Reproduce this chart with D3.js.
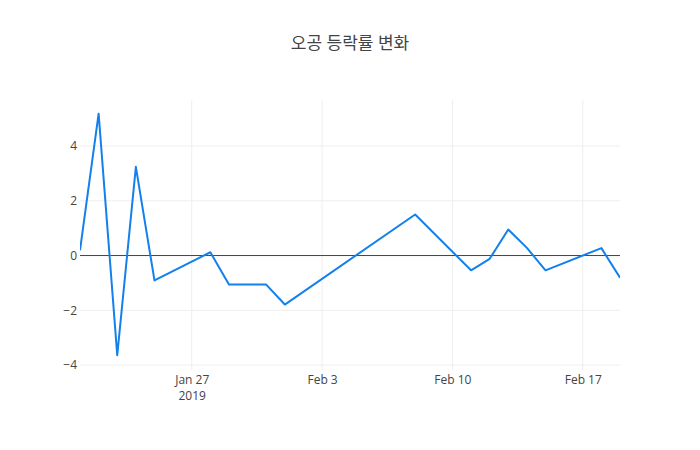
<!DOCTYPE html>
<html><head><meta charset="utf-8">
<script src="https://cdn.jsdelivr.net/npm/d3@7"></script>
<style>body{margin:0;background:#fff;}</style>
</head><body>
<svg id="chart" width="700" height="450"></svg>
<script>
const title = "오공 등락률 변화";
const dates = ["2019-01-21","2019-01-22","2019-01-23","2019-01-24","2019-01-25","2019-01-28","2019-01-29","2019-01-31","2019-02-01","2019-02-08","2019-02-11","2019-02-12","2019-02-13","2019-02-14","2019-02-15","2019-02-18","2019-02-19"];
const values = [0.19,5.18,-3.64,3.24,-0.91,0.12,-1.06,-1.06,-1.79,1.50,-0.54,-0.12,0.95,0.28,-0.54,0.27,-0.81];
const yTicks = [-4,-2,0,2,4];
const xTicks = ["2019-01-27","2019-02-03","2019-02-10","2019-02-17"];

const svg = d3.select("#chart");
const W=700,H=450,m={l:80,r:80,t:100,b:80};
const parse = d3.timeParse("%Y-%m-%d");
const data = dates.map((d,i)=>({date:parse(d),value:values[i]}));
const x = d3.scaleTime().domain([parse("2019-01-21"),parse("2019-02-19")]).range([m.l,W-m.r]);
const y = d3.scaleLinear().domain([-4.18,5.68]).range([H-m.b,m.t]);
const font = "'Open Sans', verdana, arial, sans-serif";

svg.append("rect").attr("width",W).attr("height",H).attr("fill","#fff");

// grid
const g = svg.append("g");
g.selectAll(".vg").data(xTicks.map(parse)).enter().append("line")
 .attr("x1",d=>x(d)).attr("x2",d=>x(d)).attr("y1",m.t).attr("y2",H-m.b)
 .attr("stroke","#eee").attr("stroke-width",1);
g.selectAll(".hg").data(yTicks.filter(v=>v!==0)).enter().append("line")
 .attr("x1",m.l).attr("x2",W-m.r).attr("y1",d=>y(d)).attr("y2",d=>y(d))
 .attr("stroke","#eee").attr("stroke-width",1);
// zero line
svg.append("line").attr("x1",m.l).attr("x2",W-m.r).attr("y1",y(0)).attr("y2",y(0))
 .attr("stroke","#444").attr("stroke-width",1);

// axes
const yAxis = d3.axisLeft(y).tickValues(yTicks).tickSize(0).tickPadding(3)
  .tickFormat(d=>d<0?"\u2212"+Math.abs(d):d);
const ya = svg.append("g").attr("transform",`translate(${m.l},0)`).call(yAxis);
ya.select(".domain").remove();
ya.selectAll("text").attr("font-family",font).attr("font-size",12).attr("fill","#444");

const fmt = d3.timeFormat("%b %-d");
const xa = svg.append("g").attr("transform",`translate(0,${H-m.b})`)
 .call(d3.axisBottom(x).tickValues(xTicks.map(parse)).tickSize(0).tickPadding(5).tickFormat(fmt));
xa.select(".domain").remove();
xa.selectAll("text").attr("font-family",font).attr("font-size",12).attr("fill","#444");
xa.selectAll(".tick").filter((d,i)=>i===0).append("text")
 .attr("y",21).attr("dy","0.71em").attr("text-anchor","middle")
 .attr("font-family",font).attr("font-size",12).attr("fill","#444").text("2019");

// line
svg.append("defs").append("clipPath").attr("id","clip").append("rect")
 .attr("x",m.l).attr("y",m.t).attr("width",W-m.l-m.r).attr("height",H-m.t-m.b);
svg.append("path").datum(data).attr("clip-path","url(#clip)")
 .attr("fill","none").attr("stroke","#1380ec").attr("stroke-width",2)
 .attr("stroke-linejoin","round")
 .attr("d",d3.line().x(d=>x(d.date)).y(d=>y(d.value)));

// title
svg.append("text").attr("x",W/2).attr("y",49).attr("text-anchor","middle")
 .attr("font-family","'Open Sans','Noto Sans CJK KR', sans-serif").attr("font-size",17).attr("fill","#444")
 .text(title);
</script>
</body></html>
